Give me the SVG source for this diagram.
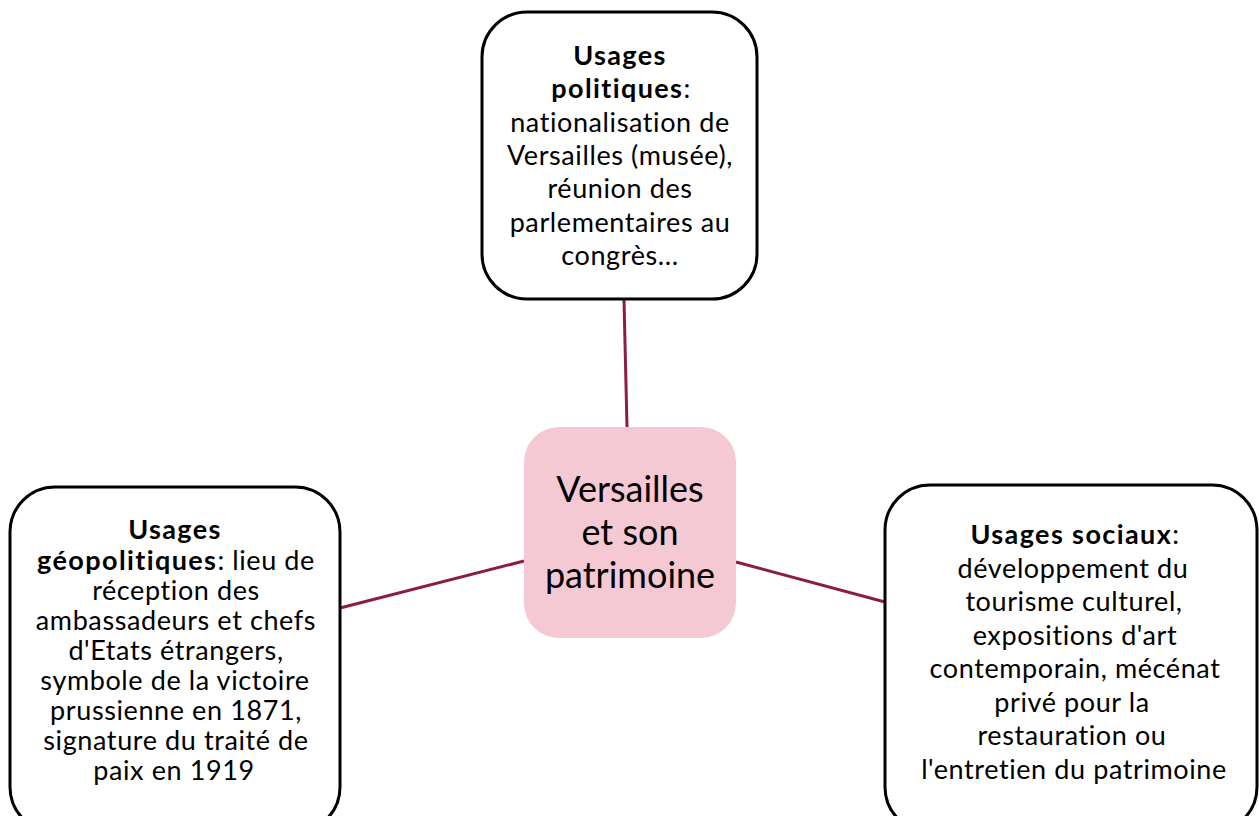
<svg xmlns="http://www.w3.org/2000/svg" width="1259" height="816" viewBox="0 0 1259 816">
<style>
.box{fill:#fff;stroke:#000;stroke-width:3}
.ctr{fill:#f5c9d4;stroke:none}
.t{font-family:Lato,"Open Sans",sans-serif;font-size:27px;letter-spacing:0.6px;fill:#000;text-anchor:middle;font-variant-ligatures:none}
.c{font-family:Lato,"Open Sans",sans-serif;font-size:36px;fill:#000;text-anchor:middle;font-variant-ligatures:none}
.b{font-weight:bold;letter-spacing:1.4px}
.ln{stroke:#8b1e3f;stroke-width:3;fill:none}
</style>
<rect width="1259" height="816" fill="#fff"/>
<g id="connectors">
<line class="ln" x1="624" y1="300" x2="627" y2="427"/>
<line class="ln" x1="340" y1="608" x2="524" y2="561"/>
<line class="ln" x1="736" y1="562" x2="885" y2="602"/>
</g>
<g id="center">
<rect class="ctr" x="524" y="427" width="212" height="211" rx="35"/>
<text class="c" x="630" y="502">Versailles</text>
<text class="c" x="630" y="545">et son</text>
<text class="c" x="630" y="588">patrimoine</text>
</g>
<g id="politiques">
<rect class="box" x="482" y="12" width="275" height="287" rx="45"/>
<text class="t" x="620" y="65"><tspan class="b">Usages</tspan></text>
<text class="t" x="621" y="98"><tspan class="b">politiques</tspan>:</text>
<text class="t" x="620" y="132">nationalisation de</text>
<text class="t" x="620" y="165">Versailles (musée),</text>
<text class="t" x="620" y="198">réunion des</text>
<text class="t" x="620" y="232">parlementaires au</text>
<text class="t" x="620" y="265">congrès...</text>
</g>
<g id="geopolitiques">
<rect class="box" x="10" y="487" width="330" height="345" rx="45"/>
<text class="t" x="175" y="539"><tspan class="b">Usages</tspan></text>
<text class="t" x="176" y="570"><tspan class="b">géopolitiques</tspan>: lieu de</text>
<text class="t" x="176" y="600">réception des</text>
<text class="t" x="176" y="630">ambassadeurs et chefs</text>
<text class="t" x="176" y="660">d'Etats étrangers,</text>
<text class="t" x="175" y="690">symbole de la victoire</text>
<text class="t" x="176" y="720">prussienne en 1871,</text>
<text class="t" x="176" y="750">signature du traité de</text>
<text class="t" x="174" y="780">paix en 1919</text>
</g>
<g id="sociaux">
<rect class="box" x="885" y="485" width="372" height="347" rx="45"/>
<text class="t" x="1075" y="544"><tspan class="b">Usages sociaux</tspan>:</text>
<text class="t" x="1073" y="578">développement du</text>
<text class="t" x="1074" y="611">tourisme culturel,</text>
<text class="t" x="1075" y="645">expositions d'art</text>
<text class="t" x="1075" y="678">contemporain, mécénat</text>
<text class="t" x="1072" y="712">privé pour la</text>
<text class="t" x="1072" y="745">restauration ou</text>
<text class="t" x="1074" y="779">l'entretien du patrimoine</text>
</g>
</svg>
